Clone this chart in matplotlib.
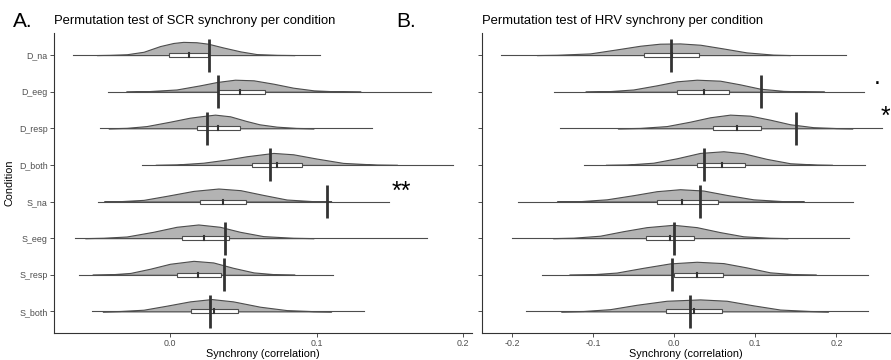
import numpy as np
import matplotlib.pyplot as plt
from matplotlib.patches import Rectangle

plt.rcParams['font.family'] = ['Liberation Sans', 'DejaVu Sans']

# Conditions, top to bottom
conditions = ['D_na', 'D_eeg', 'D_resp', 'D_both', 'S_na', 'S_eeg', 'S_resp', 'S_both']

# SCR: observed synchrony and permutation distribution summaries
scr_obs = [0.0266, 0.033, 0.025, 0.068, 0.107, 0.0375, 0.037, 0.0275]
scr_min = [-0.066, -0.042, -0.048, -0.019, -0.049, -0.065, -0.062, -0.053]
scr_q1 = [-0.0007, 0.033, 0.0186, 0.056, 0.0205, 0.0084, 0.005, 0.0143]
scr_med = [0.013, 0.048, 0.033, 0.073, 0.036, 0.0234, 0.019, 0.030]
scr_q3 = [0.026, 0.065, 0.048, 0.090, 0.052, 0.040, 0.0345, 0.0466]
scr_max = [0.102, 0.178, 0.1375, 0.193, 0.149, 0.175, 0.111, 0.132]

# SCR density outlines (x, height in row units)
scr_dens_x = [
    [-0.050, -0.041, -0.0295, -0.018, -0.0068, 0.0023, 0.009, 0.018, 0.026, 0.036, 0.048, 0.059, 0.073, 0.085],
    [-0.030, -0.016, 0.0045, 0.0205, 0.032, 0.0443, 0.057, 0.0705, 0.084, 0.098, 0.114, 0.130],
    [-0.042, -0.0295, -0.016, 0.0, 0.0136, 0.0227, 0.0307, 0.041, 0.052, 0.061, 0.0727, 0.086, 0.098],
    [-0.010, 0.0045, 0.0227, 0.0386, 0.0523, 0.0705, 0.084, 0.100, 0.118, 0.141, 0.155],
    [-0.045, -0.034, -0.018, -0.0023, 0.016, 0.033, 0.048, 0.0636, 0.0795, 0.0977, 0.110],
    [-0.058, -0.0455, -0.0295, -0.0114, 0.0045, 0.0193, 0.034, 0.0477, 0.0636, 0.084, 0.098],
    [-0.053, -0.041, -0.027, -0.0136, 0.0, 0.016, 0.0295, 0.043, 0.057, 0.0727, 0.085],
    [-0.046, -0.034, -0.018, -0.0023, 0.0136, 0.0284, 0.043, 0.0614, 0.0795, 0.0977, 0.110],
]
scr_dens_h = [
    [0, 0.006, 0.022, 0.09, 0.245, 0.33, 0.36, 0.35, 0.31, 0.21, 0.10, 0.027, 0.006, 0],
    [0, 0.012, 0.06, 0.173, 0.264, 0.327, 0.31, 0.218, 0.109, 0.036, 0.008, 0],
    [0, 0.012, 0.06, 0.18, 0.29, 0.336, 0.373, 0.327, 0.20, 0.109, 0.045, 0.01, 0],
    [0, 0.012, 0.06, 0.145, 0.236, 0.327, 0.29, 0.173, 0.055, 0.008, 0],
    [0, 0.01, 0.045, 0.155, 0.29, 0.355, 0.31, 0.18, 0.055, 0.01, 0],
    [0, 0.01, 0.045, 0.173, 0.31, 0.373, 0.31, 0.173, 0.055, 0.01, 0],
    [0, 0.01, 0.05, 0.164, 0.30, 0.38, 0.336, 0.19, 0.064, 0.01, 0],
    [0, 0.01, 0.045, 0.155, 0.273, 0.336, 0.273, 0.127, 0.035, 0.006, 0],
]

# HRV: observed synchrony and permutation distribution summaries
hrv_obs = [-0.004, 0.107, 0.150, 0.036, 0.032, 0.0, -0.0033, 0.0198]
hrv_min = [-0.214, -0.148, -0.141, -0.1115, -0.193, -0.2008, -0.163, -0.1835]
hrv_q1 = [-0.038, 0.003, 0.048, 0.0284, -0.0218, -0.0354, -0.001, -0.0107]
hrv_med = [-0.003, 0.036, 0.0778, 0.0584, 0.009, -0.0053, 0.0284, 0.0247]
hrv_q3 = [0.031, 0.0675, 0.107, 0.0877, 0.0535, 0.0247, 0.0597, 0.0584]
hrv_max = [0.2115, 0.2346, 0.256, 0.2358, 0.221, 0.2156, 0.2387, 0.2395]

hrv_dens_x = [
    [-0.170, -0.145, -0.104, -0.071, -0.042, -0.018, 0.007, 0.032, 0.0605, 0.089, 0.122, 0.143],
    [-0.110, -0.0835, -0.0506, -0.0218, 0.0029, 0.0276, 0.0564, 0.081, 0.1058, 0.1346, 0.163, 0.185],
    [-0.070, -0.0424, -0.0095, 0.0193, 0.044, 0.0687, 0.0934, 0.118, 0.143, 0.1716, 0.200, 0.220],
    [-0.085, -0.0588, -0.026, 0.0029, 0.0317, 0.0605, 0.085, 0.114, 0.143, 0.176, 0.195],
    [-0.145, -0.1165, -0.0835, -0.0506, -0.0218, 0.007, 0.0358, 0.0646, 0.0975, 0.1346, 0.160],
    [-0.150, -0.1247, -0.0918, -0.063, -0.0342, -0.0012, 0.0276, 0.0564, 0.0852, 0.118, 0.140],
    [-0.130, -0.104, -0.0712, -0.0383, -0.0053, 0.0276, 0.0605, 0.0893, 0.118, 0.151, 0.175],
    [-0.140, -0.1123, -0.0794, -0.0465, -0.0095, 0.0317, 0.0646, 0.0975, 0.1305, 0.1675, 0.190],
]
hrv_dens_h = [
    [0, 0.008, 0.045, 0.155, 0.255, 0.31, 0.318, 0.282, 0.18, 0.073, 0.012, 0],
    [0, 0.01, 0.06, 0.173, 0.282, 0.327, 0.30, 0.20, 0.082, 0.022, 0.005, 0],
    [0, 0.01, 0.06, 0.18, 0.30, 0.373, 0.345, 0.236, 0.109, 0.03, 0.006, 0],
    [0, 0.01, 0.06, 0.18, 0.327, 0.373, 0.318, 0.164, 0.045, 0.008, 0],
    [0, 0.01, 0.06, 0.173, 0.282, 0.336, 0.30, 0.18, 0.06, 0.01, 0],
    [0, 0.012, 0.066, 0.19, 0.30, 0.364, 0.30, 0.164, 0.05, 0.01, 0],
    [0, 0.01, 0.06, 0.19, 0.31, 0.355, 0.318, 0.20, 0.066, 0.01, 0],
    [0, 0.01, 0.06, 0.18, 0.29, 0.327, 0.29, 0.164, 0.05, 0.01, 0],
]

# Significance labels: (condition, text, x position, y offset)
scr_signif = [('S_na', '**', 0.158, 0.07)]
hrv_signif = [('D_eeg', '.', 0.250, 0.2), ('D_resp', '*', 0.260, 0.11)]

DARK = '#333333'
MID = '#4d4d4d'
FILL = '#b3b3b3'


def draw_panel(ax, obs, lo, q1, med, q3, hi, dens_x, dens_h):
    ypos = np.arange(len(conditions), 0, -1)
    bh = 0.055
    for i, y in enumerate(ypos):
        ax.plot([lo[i], hi[i]], [y, y], color=MID, lw=0.8, zorder=1)
        ax.fill_between(dens_x[i], y, y + np.array(dens_h[i]), facecolor=FILL,
                        edgecolor=MID, lw=0.8, zorder=2)
        ax.add_patch(Rectangle((q1[i], y - bh), q3[i] - q1[i], 2 * bh,
                               facecolor='white', edgecolor=MID, lw=0.8, zorder=3))
        ax.plot([med[i], med[i]], [y - bh, y + bh], color=DARK, lw=1.5, zorder=4)
        ax.plot([obs[i], obs[i]], [y - 0.45, y + 0.45], color=DARK, lw=2.0,
                zorder=5, solid_capstyle='butt')

    ax.set_yticks(ypos)
    ax.set_ylim(0.417, 8.602)
    for side in ['top', 'right']:
        ax.spines[side].set_visible(False)
    for side in ['left', 'bottom']:
        ax.spines[side].set_color(DARK)
        ax.spines[side].set_linewidth(0.8)
    ax.tick_params(colors=DARK, labelcolor=MID, labelsize=6.4, length=3, width=0.6, pad=1.5)
    ax.set_xlabel('Synchrony (correlation)', fontsize=7.8, labelpad=0.5)


fig = plt.figure()
fig.set_size_inches(8.91, 3.6)

# Panel A: SCR
ax1 = fig.add_axes([0.0606, 0.0758, 0.4691, 0.8325])
draw_panel(ax1, scr_obs, scr_min, scr_q1, scr_med, scr_q3, scr_max, scr_dens_x, scr_dens_h)
ax1.set_xlim(-0.0791, 0.2059)
ax1.set_xticks([0.0, 0.1, 0.2])
ax1.set_xticklabels(['0.0', '0.1', '0.2'])
ax1.set_yticklabels(conditions)
ax1.set_ylabel('Condition', fontsize=7.8, labelpad=3)
for cond, lab, xpos, dy in scr_signif:
    y = len(conditions) - conditions.index(cond)
    ax1.text(xpos, y + dy, lab, fontsize=18, ha='center', va='baseline', clip_on=False)

# Panel B: HRV
ax2 = fig.add_axes([0.5410, 0.0758, 0.4579, 0.8325])
draw_panel(ax2, hrv_obs, hrv_min, hrv_q1, hrv_med, hrv_q3, hrv_max, hrv_dens_x, hrv_dens_h)
ax2.set_xlim(-0.2374, 0.2662)
ax2.set_xticks([-0.2, -0.1, 0.0, 0.1, 0.2])
ax2.set_xticklabels(['-0.2', '-0.1', '0.0', '0.1', '0.2'])
ax2.set_yticklabels([])
for cond, lab, xpos, dy in hrv_signif:
    y = len(conditions) - conditions.index(cond)
    ax2.text(xpos, y + dy, lab, fontsize=18, ha='center', va='baseline', clip_on=True)

# Panel letters and titles
fig.text(13 / 891, 1 - 26.7 / 360, 'A.', fontsize=15, va='baseline')
fig.text(54 / 891, 1 - 24 / 360, 'Permutation test of SCR synchrony per condition',
         fontsize=9.4, va='baseline')
fig.text(396.7 / 891, 1 - 27.3 / 360, 'B.', fontsize=15, va='baseline')
fig.text(482 / 891, 1 - 24 / 360, 'Permutation test of HRV synchrony per condition',
         fontsize=9.4, va='baseline')

plt.savefig('out.png', dpi=100)
